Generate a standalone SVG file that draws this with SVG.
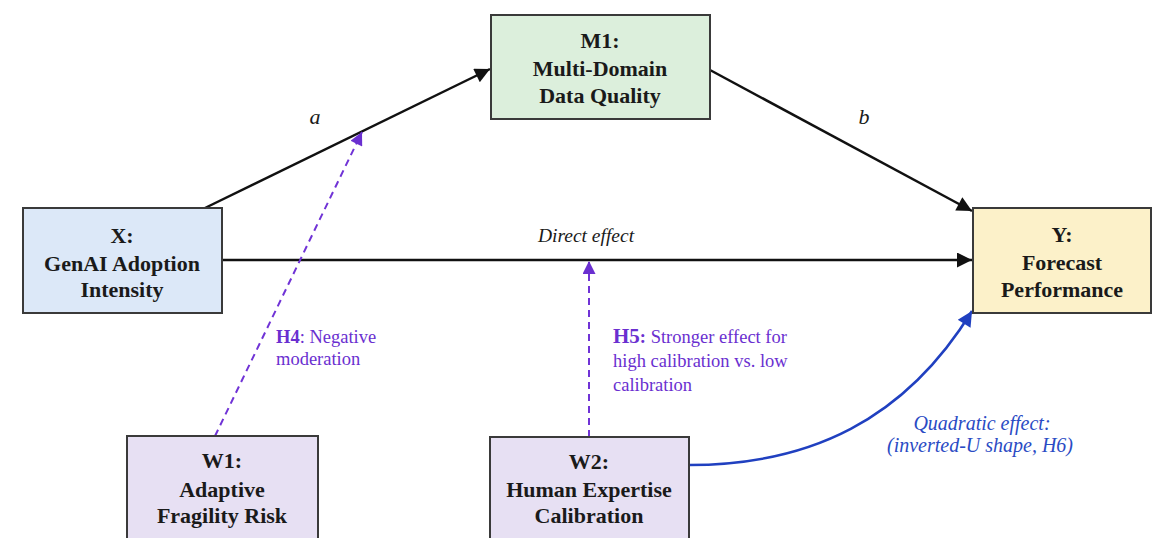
<svg xmlns="http://www.w3.org/2000/svg" width="1153" height="538" viewBox="0 0 1153 538">
<style>
.box{stroke:#3a3a3a;stroke-width:2}
.nt{font-family:"Liberation Serif","Times New Roman",serif;font-weight:bold;font-size:22px;fill:#1a1a1a;text-anchor:middle}
.lbl{font-family:"Liberation Serif","Times New Roman",serif;font-style:italic;fill:#1a1a1a}
.pl{font-family:"Liberation Serif","Times New Roman",serif;font-size:18.5px;fill:#6a2fd0}
.bl{font-family:"Liberation Serif","Times New Roman",serif;font-style:italic;font-size:20px;fill:#2a4bc4;text-anchor:middle}
.blk{stroke:#111;stroke-width:2.5;fill:none}
.pur{stroke:#7033d6;stroke-width:2;stroke-dasharray:7,5;fill:none}
</style>
<defs>
<marker id="ab" viewBox="0 0 10 10" refX="10" refY="5" markerWidth="7.5" markerHeight="6" markerUnits="strokeWidth" orient="auto"><path d="M0,0 L10,5 L0,10 z" fill="#111"/></marker>
<marker id="ap" viewBox="0 0 10 10" refX="10" refY="5" markerWidth="7.5" markerHeight="6.5" markerUnits="strokeWidth" orient="auto"><path d="M0,0 L10,5 L0,10 z" fill="#6a2fd0"/></marker>
<marker id="abl" viewBox="0 0 10 10" refX="10" refY="5" markerWidth="7" markerHeight="6" markerUnits="strokeWidth" orient="auto"><path d="M0,0 L10,5 L0,10 z" fill="#2040c0"/></marker>
</defs>
<rect width="1153" height="538" fill="#ffffff"/>
<g id="connectors">
<line class="blk" x1="205" y1="208" x2="490" y2="69" marker-end="url(#ab)"/>
<line class="blk" x1="710" y1="70" x2="972" y2="211" marker-end="url(#ab)"/>
<line class="blk" x1="222" y1="260" x2="972" y2="260" marker-end="url(#ab)"/>
<line class="pur" x1="215" y1="436" x2="362" y2="132" marker-end="url(#ap)"/>
<line class="pur" x1="589" y1="437" x2="589" y2="261" marker-end="url(#ap)"/>
<path d="M689,465 C810,465 905,420 972,311" stroke="#2040c0" stroke-width="2.5" fill="none" marker-end="url(#abl)"/>
<text class="lbl" x="315" y="124" font-size="22" text-anchor="middle">a</text>
<text class="lbl" x="864" y="124" font-size="22" text-anchor="middle">b</text>
<text class="lbl" x="586" y="242" font-size="19.5" text-anchor="middle">Direct effect</text>
<text class="pl" x="276" y="343"><tspan font-weight="bold">H4</tspan>: Negative</text>
<text class="pl" x="276" y="365">moderation</text>
<text class="pl" x="613" y="343"><tspan font-weight="bold" font-size="21">H5</tspan><tspan font-weight="bold">:</tspan> Stronger effect for</text>
<text class="pl" x="613" y="367">high calibration vs. low</text>
<text class="pl" x="613" y="391">calibration</text>
<text class="bl" x="982" y="430">Quadratic effect:</text>
<text class="bl" x="980" y="452">(inverted-U shape, H6)</text>
</g>
<g id="M1">
<rect class="box" x="491" y="15" width="219" height="104" fill="#dcefdc"/>
<text class="nt" x="600" y="48">M1:</text>
<text class="nt" x="600" y="76">Multi-Domain</text>
<text class="nt" x="600" y="103">Data Quality</text>
</g>
<g id="X">
<rect class="box" x="23" y="208" width="199" height="105" fill="#dce8f8"/>
<text class="nt" x="122" y="243">X:</text>
<text class="nt" x="122" y="271">GenAI Adoption</text>
<text class="nt" x="122" y="297">Intensity</text>
</g>
<g id="Y">
<rect class="box" x="973" y="208" width="178" height="105" fill="#fcf1c9"/>
<text class="nt" x="1062" y="242">Y:</text>
<text class="nt" x="1062" y="270">Forecast</text>
<text class="nt" x="1062" y="297">Performance</text>
</g>
<g id="W1">
<rect class="box" x="127" y="436" width="191" height="110" fill="#e7e0f3"/>
<text class="nt" x="222" y="468">W1:</text>
<text class="nt" x="222" y="497">Adaptive</text>
<text class="nt" x="222" y="523">Fragility Risk</text>
</g>
<g id="W2">
<rect class="box" x="490" y="437" width="199" height="110" fill="#e7e0f3"/>
<text class="nt" x="589" y="469">W2:</text>
<text class="nt" x="589" y="497">Human Expertise</text>
<text class="nt" x="589" y="523">Calibration</text>
</g>
</svg>
